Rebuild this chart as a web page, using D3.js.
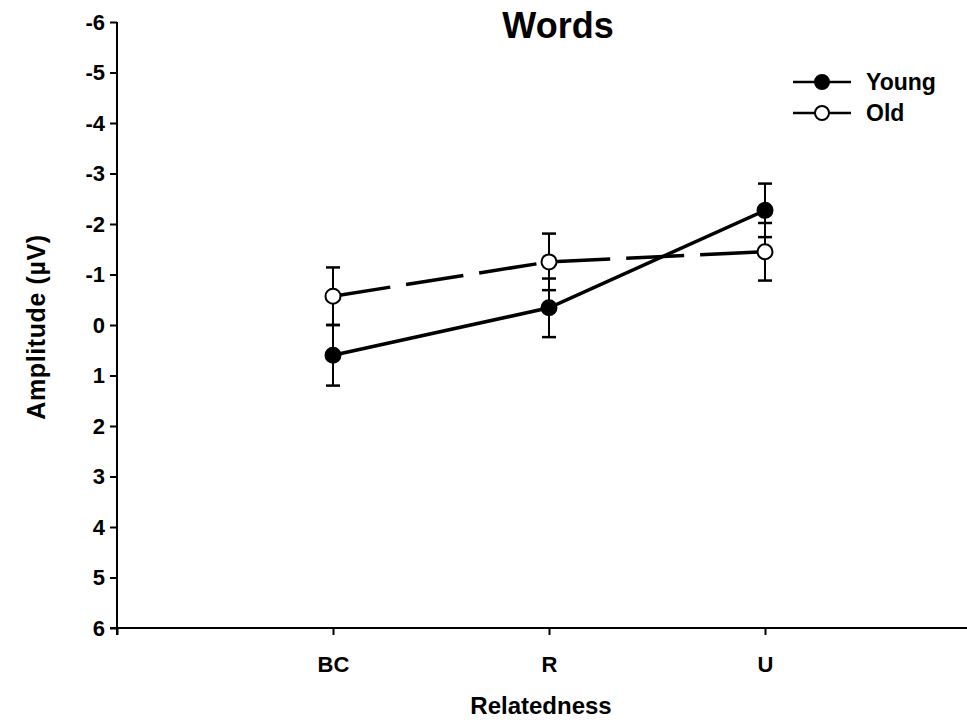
<!DOCTYPE html>
<html>
<head>
<meta charset="utf-8">
<script src="https://cdn.jsdelivr.net/npm/d3@7"></script>
<style>
  html, body { margin: 0; padding: 0; background: #fff; }
  svg { display: block; font-family: "Liberation Sans", Arial, sans-serif; font-weight: bold; }
</style>
</head>
<body>
<svg id="chart" width="967" height="723"></svg>
<script>
// Relatedness conditions and mean amplitudes (µV) with error-bar half widths
const categories = ["BC", "R", "U"];
const youngValues = [0.60, -0.34, -2.27];
const youngErrors = [0.60, 0.58, 0.53];
const oldValues = [-0.57, -1.25, -1.45];
const oldErrors = [0.57, 0.56, 0.57];
const yTicks = [-6, -5, -4, -3, -2, -1, 0, 1, 2, 3, 4, 5, 6];
const seriesNames = ["Young", "Old"];

const FONT = "'Liberation Sans', Arial, sans-serif";
const svg = d3.select("#chart");

// x positions: categories sit at 1, 2, 3 on a 0..4 axis
const x = d3.scaleLinear().domain([0, 4]).range([117, 981]);
// amplitude axis is drawn negative-up
const y = d3.scaleLinear().domain([-6, 6]).range([22, 628]);

// y axis
const yAxis = svg.append("g")
  .attr("transform", "translate(117,0)")
  .call(d3.axisLeft(y).tickValues(yTicks).tickSize(7).tickSizeOuter(0).tickPadding(5)
    .tickFormat(d => String(d)));
yAxis.select(".domain").attr("stroke", "#000").attr("stroke-width", 2)
  .attr("d", `M0,${y(-6)}V${y(6) + 7}`);
yAxis.selectAll(".tick line").attr("stroke", "#000").attr("stroke-width", 2);
yAxis.selectAll(".tick text").attr("font-size", 22).attr("font-weight", "bold").attr("fill", "#000")
  .attr("font-family", FONT);

// x axis
const xAxis = svg.append("g")
  .attr("transform", `translate(0,${y(6)})`)
  .call(d3.axisBottom(x).tickValues([0, 1, 2, 3]).tickSize(7).tickSizeOuter(0).tickPadding(21)
    .tickFormat(d => d === 0 ? "" : categories[d - 1]));
xAxis.select(".domain").attr("stroke", "#000").attr("stroke-width", 2)
  .attr("d", `M${x(0) - 7},0H${x(4)}`);
xAxis.selectAll(".tick line").attr("stroke", "#000").attr("stroke-width", 2);
xAxis.selectAll(".tick text").attr("font-size", 22).attr("font-weight", "bold").attr("fill", "#000")
  .attr("font-family", FONT);

// axis titles and chart title
svg.append("text")
  .attr("x", 558).attr("y", 38)
  .attr("text-anchor", "middle")
  .attr("font-size", 36)
  .text("Words");

svg.append("text")
  .attr("x", 541).attr("y", 714)
  .attr("text-anchor", "middle")
  .attr("font-size", 24)
  .text("Relatedness");

svg.append("text")
  .attr("transform", "translate(45,327) rotate(-90)")
  .attr("text-anchor", "middle")
  .attr("font-size", 25)
  .attr("letter-spacing", 0.6)
  .text("Amplitude (\u00B5V)");

// series
const series = [
  { name: "Young", values: youngValues, errors: youngErrors, fill: "#000", dash: null },
  { name: "Old", values: oldValues, errors: oldErrors, fill: "#fff", dash: "58,16" }
];

const line = d3.line().x((d, i) => x(i + 1)).y(d => y(d));

// error bars
series.forEach(s => {
  const g = svg.append("g");
  s.values.forEach((v, i) => {
    const cx = x(i + 1);
    const lo = y(v - s.errors[i]), hi = y(v + s.errors[i]);
    g.append("line").attr("x1", cx).attr("x2", cx).attr("y1", lo).attr("y2", hi)
      .attr("stroke", "#000").attr("stroke-width", 2);
    [lo, hi].forEach(yy => g.append("line")
      .attr("x1", cx - 7).attr("x2", cx + 7).attr("y1", yy).attr("y2", yy)
      .attr("stroke", "#000").attr("stroke-width", 2.5));
  });
});

// lines
series.forEach(s => {
  svg.append("path")
    .datum(s.values)
    .attr("d", line)
    .attr("fill", "none")
    .attr("stroke", "#000")
    .attr("stroke-width", 3.5)
    .attr("stroke-dasharray", s.dash);
});

// markers
series.forEach(s => {
  svg.append("g").selectAll("circle")
    .data(s.values)
    .join("circle")
    .attr("cx", (d, i) => x(i + 1))
    .attr("cy", d => y(d))
    .attr("r", 7.5)
    .attr("fill", s.fill)
    .attr("stroke", "#000")
    .attr("stroke-width", 2);
});

// legend
const legend = svg.append("g");
series.forEach((s, i) => {
  const ly = 82 + i * 31;
  legend.append("line").attr("x1", 793).attr("x2", 851).attr("y1", ly).attr("y2", ly)
    .attr("stroke", "#000").attr("stroke-width", 2.5);
  legend.append("circle").attr("cx", 822).attr("cy", ly).attr("r", 7)
    .attr("fill", s.fill).attr("stroke", "#000").attr("stroke-width", 2);
  legend.append("text").attr("x", 866).attr("y", ly + 8)
    .attr("font-size", 23).text(seriesNames[i]);
});
</script>
</body>
</html>
